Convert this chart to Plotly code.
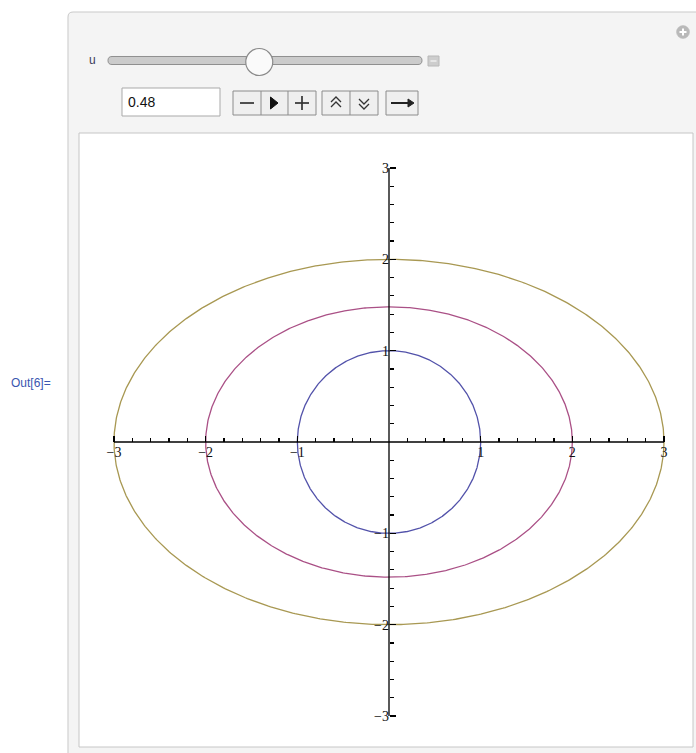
import numpy as np
import plotly.graph_objects as go

W, H = 696, 753

# ---------------- data ----------------
curve_labels = ["inner", "middle", "outer"]
semi_x = [1.0, 2.0, 3.0]          # horizontal semi-axes
semi_y = [1.0, 1.48, 2.0]         # vertical semi-axes
curve_colors = ["#5252aa", "#aa5086", "#a89852"]
major_ticks = [-3, -2, -1, 1, 2, 3]
major_labels = ["\u22123", "\u22122", "\u22121", "1", "2", "3"]
minor_ticks = [round(i * 0.2, 1) for i in range(-15, 16) if i % 5 != 0]
slider_value = 0.48
slider_min, slider_max = 0.0, 1.0

# ---------------- geometry helpers (page pixel -> paper) ----------------
def fx(x):
    return x / W

def fy(y):
    return 1 - y / H

def P(x, y):
    return f"{fx(x):.5f},{fy(y):.5f}"

shapes = []
annotations = []

def rect(x0, y0, x1, y1, fill, line, lw=1.0):
    shapes.append(dict(type="rect", xref="paper", yref="paper",
                       x0=fx(x0), x1=fx(x1), y0=fy(y1), y1=fy(y0),
                       fillcolor=fill, line=dict(color=line, width=lw), layer="below"))

def rrect(x0, y0, x1, y1, r, fill, line, lw=1.0):
    p = (f"M {P(x0 + r, y0)} L {P(x1 - r, y0)} Q {P(x1, y0)} {P(x1, y0 + r)} "
         f"L {P(x1, y1 - r)} Q {P(x1, y1)} {P(x1 - r, y1)} L {P(x0 + r, y1)} "
         f"Q {P(x0, y1)} {P(x0, y1 - r)} L {P(x0, y0 + r)} Q {P(x0, y0)} {P(x0 + r, y0)} Z")
    shapes.append(dict(type="path", xref="paper", yref="paper", path=p,
                       fillcolor=fill, line=dict(color=line, width=lw), layer="below"))

def circ(cx, cy, r, fill, line, lw=1.0):
    shapes.append(dict(type="circle", xref="paper", yref="paper",
                       x0=fx(cx - r), x1=fx(cx + r), y0=fy(cy + r), y1=fy(cy - r),
                       fillcolor=fill, line=dict(color=line, width=lw), layer="below"))

def seg(pts, color, lw=1.0, fill=None, closed=False):
    p = "M " + " L ".join(P(x, y) for x, y in pts) + (" Z" if closed else "")
    shapes.append(dict(type="path", xref="paper", yref="paper", path=p,
                       fillcolor=fill if fill else "rgba(0,0,0,0)",
                       line=dict(color=color, width=lw), layer="below"))

def text(x, y, s, size, color, family="Liberation Sans", xanchor="left"):
    annotations.append(dict(x=fx(x), y=fy(y), xref="paper", yref="paper", text=s,
                            showarrow=False, xanchor=xanchor, yanchor="middle",
                            font=dict(size=size, color=color, family=family)))

# ---------------- panel / frame ----------------
rrect(68, 12, 720, 780, 5, "#f4f4f4", "#c9c9c9", 1)
rect(79, 133, 693, 747, "#ffffff", "#c6c6c6", 1)

# plus icon (top right)
circ(683, 32, 6.5, "#b9b9b9", "#b9b9b9", 0.5)
seg([(679.5, 32), (686.5, 32)], "#ffffff", 2)
seg([(683, 28.5), (683, 35.5)], "#ffffff", 2)

# slider
track_l, track_r = 108, 422
rrect(track_l, 56.5, track_r, 64.5, 4, "#cbcbcb", "#8f8f8f", 1)
knob_r = 13.5
knob_x = track_l + knob_r + (slider_value - slider_min) / (slider_max - slider_min) * (track_r - track_l - 2 * knob_r)
circ(knob_x, 62, knob_r, "#fafafa", "#8a8a8a", 1.2)
rect(428, 56, 439, 66, "#cdcdcd", "#b8b8b8", 1)
seg([(430.5, 61), (436.5, 61)], "#eeeeee", 1.5)
text(87, 60, "u", 12, "#3a3a5a")

# value box
rect(122, 88, 220, 116, "#ffffff", "#a9a9a9", 1)
text(126, 102, f"{slider_value:.2f}", 14, "#111111")

# button group 1: - play +
rect(233, 91, 316, 115, "#efefef", "#8c8c8c", 1)
seg([(261, 91), (261, 115)], "#8c8c8c", 1)
seg([(288, 91), (288, 115)], "#8c8c8c", 1)
seg([(240, 103), (254, 103)], "#333333", 1.7)
seg([(270.5, 97), (270.5, 109), (278, 103)], "#111111", 1, fill="#111111", closed=True)
seg([(295, 103), (309, 103)], "#333333", 1.7)
seg([(302, 96), (302, 110)], "#333333", 1.7)

# button group 2: faster / slower
rect(322, 91, 378, 115, "#efefef", "#8c8c8c", 1)
seg([(350, 91), (350, 115)], "#8c8c8c", 1)
seg([(331, 102), (336, 97), (341, 102)], "#333333", 1.3)
seg([(331, 107), (336, 102), (341, 107)], "#333333", 1.3)
seg([(359, 99), (364, 104), (369, 99)], "#333333", 1.3)
seg([(359, 104), (364, 109), (369, 104)], "#333333", 1.3)

# button group 3: direction
rect(386, 91, 418, 115, "#efefef", "#8c8c8c", 1)
seg([(391, 103), (409, 103)], "#222222", 2)
seg([(408, 99), (414, 103), (408, 107)], "#222222", 1, fill="#222222", closed=True)

# Out label
text(9, 383, "Out[6]=", 12, "#3a56b0")

# ---------------- plot axes ----------------
x_m3, x_p3 = 114, 664      # page px of x = -3, 3
y_p3, y_m3 = 168, 716      # page px of y = 3, -3
ux = (x_p3 - x_m3) / 6
uy = (y_m3 - y_p3) / 6
pad = 24
xdom = [fx(x_m3 - pad), fx(x_p3 + pad)]
ydom = [fy(y_m3 + pad), fy(y_p3 - pad)]
xr = [-3 - pad / ux, 3 + pad / ux]
yr = [-3 - pad / uy, 3 + pad / uy]
x0_pos = fy((y_p3 + y_m3) / 2)
y0_pos = fx((x_m3 + x_p3) / 2)

fig = go.Figure()
theta = np.linspace(0, 2 * np.pi, 721)
for name, a, b, c in zip(curve_labels, semi_x, semi_y, curve_colors):
    fig.add_trace(go.Scatter(x=a * np.cos(theta), y=b * np.sin(theta), mode="lines",
                             name=name, line=dict(color=c, width=1.3),
                             hoverinfo="skip", showlegend=False))

lo, hi = min(major_ticks), max(major_ticks)
shapes.append(dict(type="line", xref="x", yref="y", x0=lo, x1=hi, y0=0, y1=0,
                   line=dict(color="#000000", width=1.3), layer="above"))
shapes.append(dict(type="line", xref="x", yref="y", x0=0, x1=0, y0=lo, y1=hi,
                   line=dict(color="#000000", width=1.3), layer="above"))

tick_font = dict(family="Liberation Serif", size=14, color="#111111")
common = dict(showgrid=False, zeroline=False, showline=False,
              tickmode="array", tickvals=major_ticks, ticktext=major_labels,
              ticks="inside", ticklen=6, tickwidth=1.3, tickcolor="#000000",
              tickfont=tick_font, fixedrange=True,
              minor=dict(tickmode="array", tickvals=minor_ticks, ticks="inside",
                         ticklen=4, tickwidth=1.2, tickcolor="#000000", showgrid=False))

fig.update_layout(
    width=W, height=H,
    margin=dict(l=0, r=0, t=0, b=0),
    paper_bgcolor="#ffffff",
    plot_bgcolor="rgba(0,0,0,0)",
    showlegend=False,
    xaxis=dict(domain=xdom, range=xr, anchor="free", position=x0_pos, **common),
    yaxis=dict(domain=ydom, range=yr, anchor="free", position=y0_pos, **common),
    shapes=shapes,
    annotations=annotations,
)

fig.write_html(
    "out.html",
    config={"displayModeBar": False, "staticPlot": True},
    post_script=("document.body.style.margin='0';"
                 "document.body.style.overflow='hidden';"
                 "document.documentElement.style.overflow='hidden';"),
)
